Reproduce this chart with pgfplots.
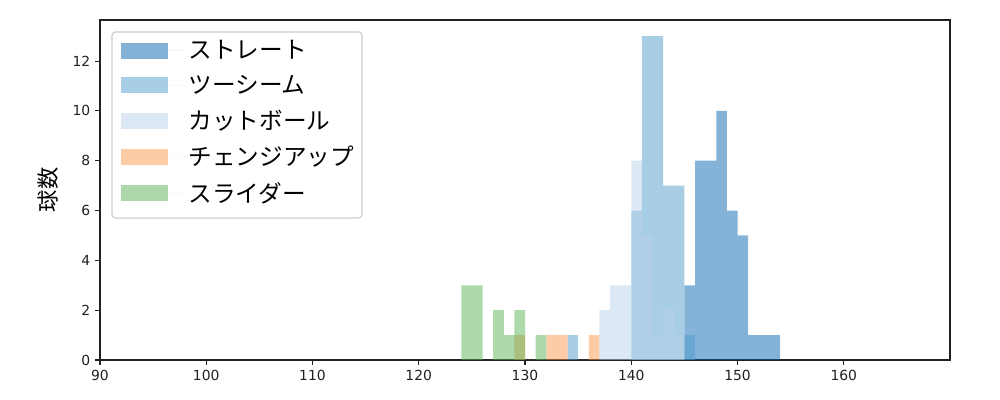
\documentclass[border=0pt]{standalone}
\usepackage{pgfplots}
\pgfplotsset{compat=1.18}
\usepackage{fontspec}
\setmainfont{DejaVu Sans}
\newfontfamily\cjk{Noto Sans CJK JP}
\definecolor{cST}{RGB}{11,103,175}
\definecolor{cTS}{RGB}{81,157,205}
\definecolor{cCT}{RGB}{185,209,233}
\definecolor{cCH}{RGB}{251,153,77}
\definecolor{cSL}{RGB}{89,181,87}
\begin{document}
\begin{tikzpicture}
\begin{axis}[
  at={(0,0)}, anchor=south west,
  scale only axis, width=612pt, height=244.8pt,
  xmin=90, xmax=170, ymin=0, ymax=13.65,
  xtick={90,100,...,160}, ytick={0,2,...,12},
  tick pos=left, tick align=outside,
  major tick length=3.5pt,
  every tick/.style={line width=0.8pt, black!87},
  axis line style={line width=0.8pt, black!87},
  tick label style={font=\fontsize{10}{12}\selectfont, text=black!87},
  /pgf/number format/assume math mode=true,
  ylabel={\cjk 球数},
  ylabel style={font=\fontsize{16}{19}\selectfont, at={(axis description cs:-0.0612,0.5)}, anchor=center},
  legend style={at={(axis description cs:0.0239,0.9491)}, anchor=north west,
    draw=none, fill=none, inner sep=0pt,
    font=\cjk\fontsize{17}{20}\selectfont,
    row sep=6.5pt, cells={anchor=west}},
  legend image code/.code={\fill[#1, sharp corners] (0pt,-5.75pt) rectangle (34pt,5.75pt);
     \path (34pt,0pt) -- (47pt,0pt);},
  legend cell align=left,
]
\draw[black!20, line width=0.8pt, rounded corners=2.5pt, fill=white, fill opacity=0.8]
  (axis description cs:0.01412,0.96471) rectangle (axis description cs:0.30824,0.41765);
\addplot[const plot, fill=cST, fill opacity=0.5, draw=none] coordinates {(145,3)(146,8)(147,8)(148,10)(149,6)(150,5)(151,1)(152,1)(153,1)(154,0)} \closedcycle;
\addlegendentry{ストレート}
\addplot[const plot, fill=cTS, fill opacity=0.5, draw=none] coordinates {(134,1)(135,0)(140,6)(141,13)(142,13)(143,7)(144,7)(145,1)(146,0)} \closedcycle;
\addlegendentry{ツーシーム}
\addplot[const plot, fill=cCT, fill opacity=0.5, draw=none] coordinates {(137,2)(138,3)(139,3)(140,8)(141,5)(142,1)(143,2)(144,1)(145,0)} \closedcycle;
\addlegendentry{カットボール}
\addplot[const plot, fill=cCH, fill opacity=0.5, draw=none] coordinates {(129,1)(130,0)(132,1)(133,1)(134,0)(136,1)(137,0)} \closedcycle;
\addlegendentry{チェンジアップ}
\addplot[const plot, fill=cSL, fill opacity=0.5, draw=none] coordinates {(124,3)(125,3)(126,0)(127,2)(128,1)(129,2)(130,0)(131,1)(132,0)} \closedcycle;
\addlegendentry{スライダー}
\end{axis}
\pgfresetboundingbox
\path[use as bounding box] (-72pt,-28.8pt) rectangle (648pt,259.2pt);
\end{tikzpicture}
\end{document}
